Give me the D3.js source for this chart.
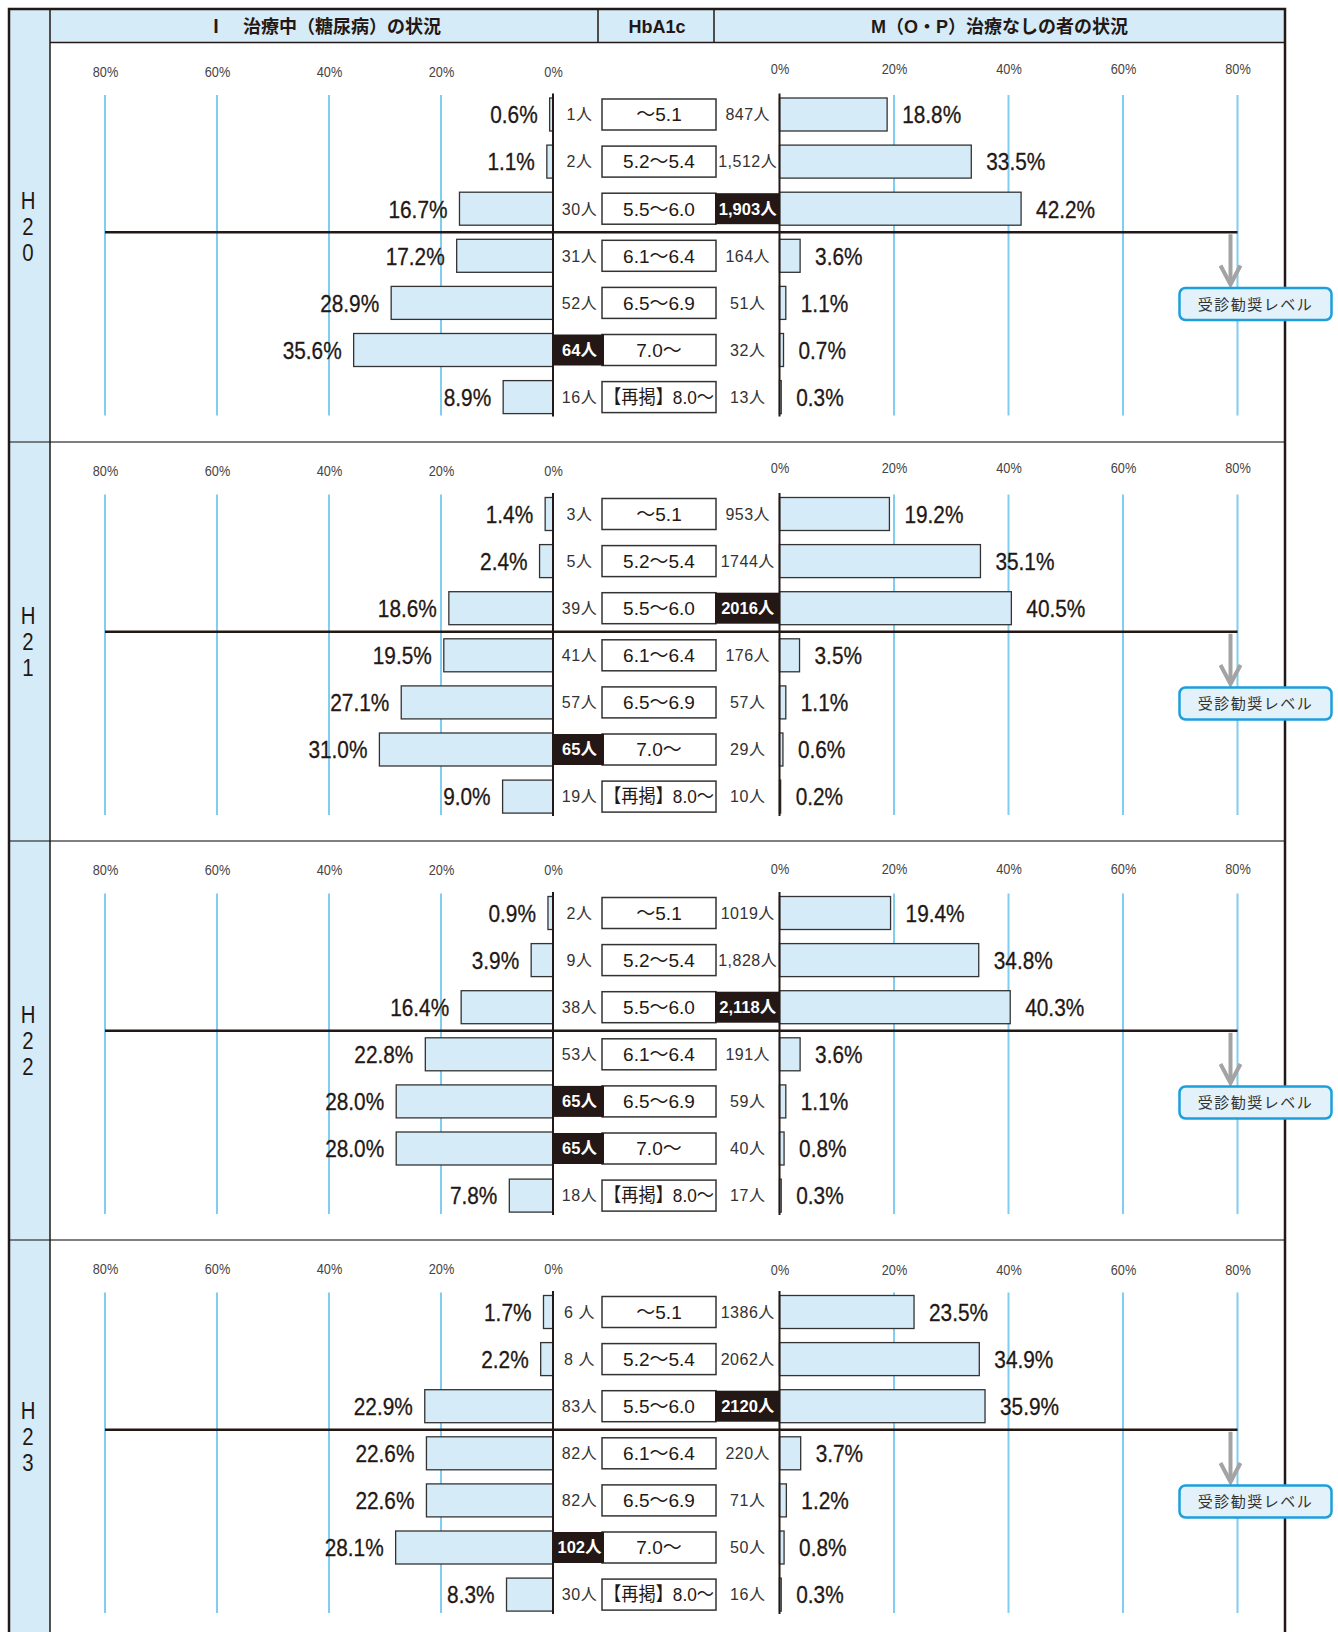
<!DOCTYPE html>
<html lang="ja">
<head>
  <meta charset="UTF-8">
  <title>HbA1c 治療中・治療なしの者の状況</title>
  <script src="https://d3js.org/d3.v7.min.js"></script>
  <style>
    body { margin: 0; background: #fff; }
    svg { display: block; }
  </style>
</head>
<body>
  <svg id="chart" width="1338" height="1632"></svg>

  <script>
    // ---- data ----
    const years = ['H20', 'H21', 'H22', 'H23'];
    const hba1c = ['～5.1', '5.2～5.4', '5.5～6.0', '6.1～6.4', '6.5～6.9', '7.0～', '【再掲】8.0～'];

    const treatedPct = [
      [0.6, 1.1, 16.7, 17.2, 28.9, 35.6, 8.9],
      [1.4, 2.4, 18.6, 19.5, 27.1, 31.0, 9.0],
      [0.9, 3.9, 16.4, 22.8, 28.0, 28.0, 7.8],
      [1.7, 2.2, 22.9, 22.6, 22.6, 28.1, 8.3]
    ];
    const treatedCount = [
      ['1', '2', '30', '31', '52', '64', '16'],
      ['3', '5', '39', '41', '57', '65', '19'],
      ['2', '9', '38', '53', '65', '65', '18'],
      ['6 ', '8 ', '83', '82', '82', '102', '30']
    ];
    const treatedHighlight = [[5], [5], [4, 5], [5]];

    const untreatedPct = [
      [18.8, 33.5, 42.2, 3.6, 1.1, 0.7, 0.3],
      [19.2, 35.1, 40.5, 3.5, 1.1, 0.6, 0.2],
      [19.4, 34.8, 40.3, 3.6, 1.1, 0.8, 0.3],
      [23.5, 34.9, 35.9, 3.7, 1.2, 0.8, 0.3]
    ];
    const untreatedCount = [
      ['847', '1,512', '1,903', '164', '51', '32', '13'],
      ['953', '1744', '2016', '176', '57', '29', '10'],
      ['1019', '1,828', '2,118', '191', '59', '40', '17'],
      ['1386', '2062', '2120', '220', '71', '50', '16']
    ];
    const untreatedHighlight = [[2], [2], [2], [2]];

    const leftTicks = [80, 60, 40, 20, 0];
    const rightTicks = [0, 20, 40, 60, 80];
    const headers = ['Ⅰ　治療中（糖尿病）の状況', 'HbA1c', 'M（O・P）治療なしの者の状況'];
    const levelLabel = '受診勧奨レベル';

    // ---- layout ----
    const W = 1338, H = 1632;
    const frameL = 9, frameR = 1285, frameT = 9, yearColR = 50;
    const headT = 10, headB = 42.5;
    const div1 = 598, div2 = 714;
    const panelTop = [42.5, 442, 841, 1240];
    const rightTickY = [31, 31, 33, 35];
    const axisL0 = 553, axisR0 = 779.5;
    const boxX = 602, boxW = 114, boxH = 31, barH = 33;

    const dark = '#231815', light = '#d5ebf8', grid = '#7fcdf0';
    const font = "'Liberation Sans', 'Noto Sans CJK JP', sans-serif";

    const xL = d3.scaleLinear().domain([0, 80]).range([axisL0, 105]);
    const xR = d3.scaleLinear().domain([0, 80]).range([axisR0, 1237.5]);
    const y = d3.scalePoint().domain(d3.range(7)).range([72, 72 + 6 * 47.1]);

    const svg = d3.select('#chart').style('font-family', font);

    // backgrounds
    svg.append('rect').attr('x', frameL).attr('y', headT).attr('width', yearColR - frameL)
      .attr('height', H - headT).attr('fill', light);
    svg.append('rect').attr('x', yearColR).attr('y', headT).attr('width', frameR - yearColR)
      .attr('height', headB - headT).attr('fill', light);

    // header texts
    const headerX = [(yearColR + div1) / 2, (div1 + div2) / 2 + 1, (div2 + frameR) / 2];
    svg.selectAll('text.header').data(headers).join('text')
      .attr('class', 'header')
      .attr('x', (d, i) => headerX[i])
      .attr('y', 33)
      .attr('text-anchor', 'middle')
      .attr('font-size', 18)
      .attr('font-weight', 'bold')
      .attr('fill', dark)
      .text(d => d);

    [div1, div2].forEach(x => {
      svg.append('line').attr('x1', x).attr('x2', x).attr('y1', headT).attr('y2', headB)
        .attr('stroke', dark).attr('stroke-width', 1.5);
    });
    svg.append('line').attr('x1', yearColR).attr('x2', frameR).attr('y1', headB).attr('y2', headB)
      .attr('stroke', dark).attr('stroke-width', 1.5);

    years.forEach((yr, p) => {
      const top = panelTop[p];
      const g = svg.append('g').attr('transform', `translate(0,${top})`);

      // year label, one character per line
      const colTop = p === 0 ? headT : top;
      const colBot = p < years.length - 1 ? panelTop[p + 1] : H;
      const mid = (colTop + colBot) / 2 - top;
      g.selectAll('text.year').data(yr.split('')).join('text')
        .attr('class', 'year')
        .attr('transform', (d, i) => `translate(28,${mid + (i - 1) * 26 + 8.5}) scale(0.85,1)`)
        .attr('text-anchor', 'middle')
        .attr('font-size', 24)
        .attr('fill', dark)
        .text(d => d);

      // tick labels via axes
      const axL = g.append('g').attr('transform', 'translate(0,34)')
        .call(d3.axisTop(xL).tickValues(leftTicks).tickFormat(d => d + '%').tickSize(0).tickPadding(0));
      const axR = g.append('g').attr('transform', `translate(0,${rightTickY[p]})`)
        .call(d3.axisTop(xR).tickValues(rightTicks).tickFormat(d => d + '%').tickSize(0).tickPadding(0));
      [axL, axR].forEach(ax => {
        ax.select('.domain').remove();
        ax.selectAll('text')
          .attr('font-size', 15)
          .attr('font-family', font)
          .attr('fill', '#444')
          .attr('transform', 'scale(0.85,1)');
      });

      // grid lines
      g.selectAll('line.gl').data(leftTicks.filter(d => d > 0)).join('line')
        .attr('class', 'gl')
        .attr('x1', d => xL(d)).attr('x2', d => xL(d))
        .attr('y1', 52.5).attr('y2', 373)
        .attr('stroke', grid).attr('stroke-width', 2);
      g.selectAll('line.gr').data(rightTicks.filter(d => d > 0)).join('line')
        .attr('class', 'gr')
        .attr('x1', d => xR(d)).attr('x2', d => xR(d))
        .attr('y1', 52.5).attr('y2', 373)
        .attr('stroke', grid).attr('stroke-width', 2);

      // threshold line between 5.5~6.0 and 6.1~6.4
      const ty = (y(2) + y(3)) / 2;
      g.append('line')
        .attr('x1', xL(80)).attr('x2', xR(80))
        .attr('y1', ty).attr('y2', ty)
        .attr('stroke', dark).attr('stroke-width', 2.5);

      // bars
      g.selectAll('rect.bl').data(treatedPct[p]).join('rect')
        .attr('class', 'bl')
        .attr('x', d => xL(d))
        .attr('y', (d, i) => y(i) - barH / 2)
        .attr('width', d => axisL0 - xL(d))
        .attr('height', barH)
        .attr('fill', light).attr('stroke', '#333').attr('stroke-width', 1.3);
      g.selectAll('rect.br').data(untreatedPct[p]).join('rect')
        .attr('class', 'br')
        .attr('x', axisR0)
        .attr('y', (d, i) => y(i) - barH / 2)
        .attr('width', d => xR(d) - axisR0)
        .attr('height', barH)
        .attr('fill', light).attr('stroke', '#333').attr('stroke-width', 1.3);

      // percent labels
      g.selectAll('text.pl').data(treatedPct[p]).join('text')
        .attr('class', 'pl')
        .attr('transform', (d, i) => `translate(${xL(d) - 12},${y(i) + 8.8}) scale(0.85,1)`)
        .attr('text-anchor', 'end')
        .attr('font-size', 24.5)
        .attr('fill', dark)
        .attr('stroke', dark).attr('stroke-width', 0.3)
        .text(d => d.toFixed(1) + '%');
      g.selectAll('text.pr').data(untreatedPct[p]).join('text')
        .attr('class', 'pr')
        .attr('transform', (d, i) => `translate(${xR(d) + 15},${y(i) + 8.8}) scale(0.85,1)`)
        .attr('text-anchor', 'start')
        .attr('font-size', 24.5)
        .attr('fill', dark)
        .attr('stroke', dark).attr('stroke-width', 0.3)
        .text(d => d.toFixed(1) + '%');

      // HbA1c category boxes
      g.selectAll('rect.cat').data(hba1c).join('rect')
        .attr('class', 'cat')
        .attr('x', boxX).attr('y', (d, i) => y(i) - boxH / 2)
        .attr('width', boxW).attr('height', boxH)
        .attr('fill', '#fff').attr('stroke', '#333').attr('stroke-width', 1.5);
      g.selectAll('text.cat').data(hba1c).join('text')
        .attr('class', 'cat')
        .attr('x', boxX + boxW / 2).attr('y', (d, i) => y(i) + 6.8)
        .attr('text-anchor', 'middle')
        .attr('font-size', 19)
        .attr('fill', dark)
        .text(d => d)
        .each(function() {
          if (this.getComputedTextLength() > boxW - 4) {
            d3.select(this).attr('textLength', boxW - 4).attr('lengthAdjust', 'spacingAndGlyphs');
          }
        });

      // counts, with black highlight cells
      const lCenter = (axisL0 + boxX) / 2 + 2, rCenter = (boxX + boxW + axisR0) / 2;
      g.selectAll('rect.hl').data(treatedHighlight[p]).join('rect')
        .attr('class', 'hl')
        .attr('x', axisL0).attr('y', i => y(i) - boxH / 2)
        .attr('width', boxX + 2 - axisL0).attr('height', boxH)
        .attr('fill', dark);
      g.selectAll('rect.hr').data(untreatedHighlight[p]).join('rect')
        .attr('class', 'hr')
        .attr('x', boxX + boxW - 1).attr('y', i => y(i) - boxH / 2)
        .attr('width', axisR0 - (boxX + boxW - 1)).attr('height', boxH)
        .attr('fill', dark);

      const countText = (sel, hi, cx) => sel
        .attr('x', cx).attr('y', (d, i) => y(i) + 5.8)
        .attr('text-anchor', 'middle')
        .attr('font-size', (d, i) => hi.includes(i) ? 16.5 : 16)
        .attr('letter-spacing', (d, i) => hi.includes(i) ? 0 : 0.5)
        .attr('font-weight', (d, i) => hi.includes(i) ? 'bold' : 'normal')
        .attr('fill', (d, i) => hi.includes(i) ? '#fff' : '#333')
        .text(d => d + '人')
        .each(function(d, i) {
          const max = (i === 0 || !hi.includes(i)) ? 62 : 60;
          if (this.getComputedTextLength() > max) {
            d3.select(this).attr('textLength', max).attr('lengthAdjust', 'spacingAndGlyphs');
          }
        });
      g.selectAll('text.cl').data(treatedCount[p]).join('text')
        .attr('class', 'cl')
        .call(countText, treatedHighlight[p], lCenter);
      g.selectAll('text.cr').data(untreatedCount[p]).join('text')
        .attr('class', 'cr')
        .call(countText, untreatedHighlight[p], rCenter);

      // 0% axis lines
      [axisL0, axisR0].forEach(x => {
        g.append('line').attr('x1', x).attr('x2', x).attr('y1', 51).attr('y2', 374)
          .attr('stroke', dark).attr('stroke-width', 2);
      });

      // separator under the panel
      if (p > 0) {
        svg.append('line').attr('x1', frameL).attr('x2', frameR).attr('y1', top).attr('y2', top)
          .attr('stroke', '#555').attr('stroke-width', 1.5);
      }
    });

    // frame
    svg.append('line').attr('x1', yearColR).attr('x2', yearColR).attr('y1', headT).attr('y2', H)
      .attr('stroke', dark).attr('stroke-width', 1.5);
    svg.append('path')
      .attr('d', `M${frameL},${H} V${frameT} H${frameR} V${H}`)
      .attr('fill', 'none').attr('stroke', dark).attr('stroke-width', 2.5);

    // referral level callout
    years.forEach((yr, p) => {
      const top = panelTop[p];
      const ty = top + (y(2) + y(3)) / 2;
      const ax = xR(80) - 7;
      const g = svg.append('g');
      g.append('line').attr('x1', ax).attr('x2', ax).attr('y1', ty + 2).attr('y2', top + 242)
        .attr('stroke', '#a3a3a3').attr('stroke-width', 4);
      g.append('path')
        .attr('d', `M${ax - 10},${top + 223} L${ax},${top + 242} L${ax + 10},${top + 223}`)
        .attr('fill', 'none').attr('stroke', '#a3a3a3').attr('stroke-width', 4);
      g.append('rect')
        .attr('x', 1179.5).attr('y', top + 245.5)
        .attr('width', 152).attr('height', 32).attr('rx', 6)
        .attr('fill', '#e3f1fa').attr('stroke', '#1d9fdc').attr('stroke-width', 2.5);
      g.append('text')
        .attr('x', 1255.5).attr('y', top + 267)
        .attr('text-anchor', 'middle')
        .attr('font-size', 15)
        .attr('letter-spacing', 1.5)
        .attr('fill', '#333')
        .text(levelLabel);
    });
  </script>
</body>
</html>
